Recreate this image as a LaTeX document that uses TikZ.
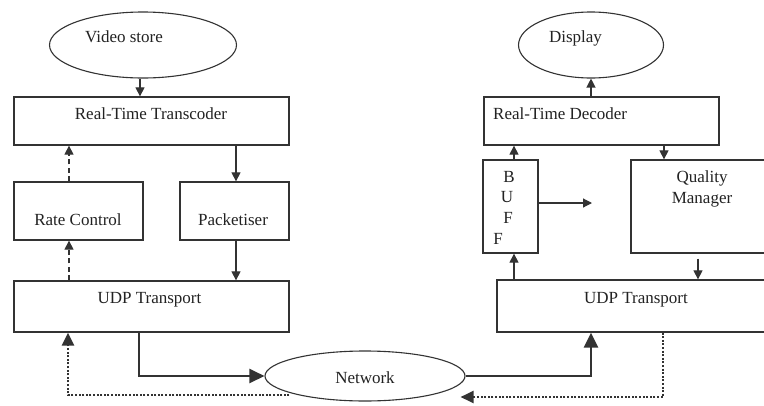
\documentclass[tikz,border=0pt]{standalone}
\usepackage{fontspec}
\setmainfont{Liberation Serif}
\usetikzlibrary{shapes.geometric,arrows.meta}
\definecolor{linec}{HTML}{333333}
\definecolor{txtc}{HTML}{222222}

\begin{document}
\begin{tikzpicture}[x=1pt,y=-1pt,
  box/.style={draw=linec, line width=1.3pt, rectangle, inner sep=0pt},
  oval/.style={draw=linec, line width=1.1pt, ellipse, inner sep=0pt},
  lbl/.style={text=txtc, font=\fontsize{17}{21}\selectfont, inner sep=0pt, anchor=base},
  arr/.style={draw=linec, line width=1.2pt, -{Triangle[length=9pt,width=9pt]}},
  dasharr/.style={arr, dash pattern=on 5pt off 3.5pt},
  bigarr/.style={draw=linec, line width=2.4pt, -{Triangle[length=15pt,width=14pt]}},
  dotarr/.style={draw=linec, line width=2.4pt, dash pattern=on 2pt off 1.6pt, -{Triangle[length=13pt,width=12pt]}},
]
\useasboundingbox (0,0) rectangle (764,405);
\fill[white] (0,0) rectangle (764,405);
\clip (0,0) rectangle (764,405);

% ---- sender side ----
\node[oval, minimum width=187pt, minimum height=66pt] (vs) at (143,45) {};
\node[lbl] (vs-t) at (124,42) {Video store};
\node[box, minimum width=275pt, minimum height=48pt] (rtt) at (151.5,121) {};
\node[lbl] (rtt-t) at (151,119) {Real-Time Transcoder};
\node[box, minimum width=129pt, minimum height=58pt] (rc) at (78.5,211) {};
\node[lbl] (rc-t) at (78,225) {Rate Control};
\node[box, minimum width=109pt, minimum height=58pt] (pk) at (234.5,211) {};
\node[lbl] (pk-t) at (233,225) {Packetiser};
\node[box, minimum width=275pt, minimum height=51pt] (udpl) at (151.5,306.5) {};
\node[lbl] (udpl-t) at (149.5,303) {UDP Transport};

% ---- network ----
\node[oval, minimum width=200pt, minimum height=50pt] (net) at (365,376) {};
\node[lbl] (net-t) at (365,383) {Network};

% ---- receiver side ----
\node[oval, minimum width=145pt, minimum height=66pt] (disp) at (591,45) {};
\node[lbl] (disp-t) at (575.5,42) {Display};
\node[box, minimum width=235pt, minimum height=48pt] (rtd) at (601.5,121) {};
\node[lbl, anchor=base west] (rtd-t) at (493,119) {Real-Time Decoder};
\node[box, minimum width=55pt, minimum height=93pt] (buf) at (510.5,206.5) {};
\node[lbl] (buf-b) at (509,182) {B};
\node[lbl] (buf-u) at (507,202) {U};
\node[lbl] (buf-f1) at (508,223) {F};
\node[lbl] (buf-f2) at (498,244) {F};
\node[box, minimum width=159pt, minimum height=93pt] (qm) at (710.5,206.5) {};
\node[lbl, align=center] (qm-t) at (702,203) {Quality\\Manager};
\node[box, minimum width=293pt, minimum height=52pt] (udpr) at (643.5,306) {};
\node[lbl] (udpr-t) at (636,303) {UDP Transport};
\coordinate (bufout) at (592,203);

% ---- sender connectors ----
\draw[arr] ([xshift=-3pt]vs.south) -- ([xshift=-3pt]vs.south |- rtt.north);
\draw[dasharr] ([xshift=-9.5pt]rc.north) -- ([xshift=-9.5pt]rc.north |- rtt.south);
\draw[arr] ([xshift=1.5pt]pk.north |- rtt.south) -- ([xshift=1.5pt]pk.north);
\draw[dasharr] ([xshift=-9.5pt]rc.south |- udpl.north) -- ([xshift=-9.5pt]rc.south);
\draw[arr] ([xshift=1.5pt]pk.south) -- ([xshift=1.5pt]pk.south |- udpl.north);

% ---- network connectors ----
\draw[bigarr] ([xshift=-12.5pt]udpl.south) |- (net.west);
\draw[dotarr] ([xshift=25pt,yshift=-19pt]net.west) -| ([xshift=-83.5pt]udpl.south);
\draw[bigarr] (net.east) -| ([xshift=-52.5pt]udpr.south);
\draw[dotarr] ([xshift=19.5pt]udpr.south) |- ([xshift=-5pt,yshift=-21pt]net.east);

% ---- receiver connectors ----
\draw[arr] (disp.south |- rtd.north) -- (disp.south);
\draw[arr] ([xshift=3.5pt]buf.north) -- ([xshift=3.5pt]buf.north |- rtd.south);
\draw[arr] (buf.east |- bufout) -- (bufout);
\draw[arr] ([xshift=-46.5pt]qm.north |- rtd.south) -- ([xshift=-46.5pt]qm.north);
\draw[arr] ([xshift=-12.5pt,yshift=-5pt]qm.south) -- ([xshift=-12.5pt]qm.south |- udpr.north);
\draw[arr] ([xshift=3.5pt]buf.south |- udpr.north) -- ([xshift=3.5pt]buf.south);
\end{tikzpicture}
\end{document}
